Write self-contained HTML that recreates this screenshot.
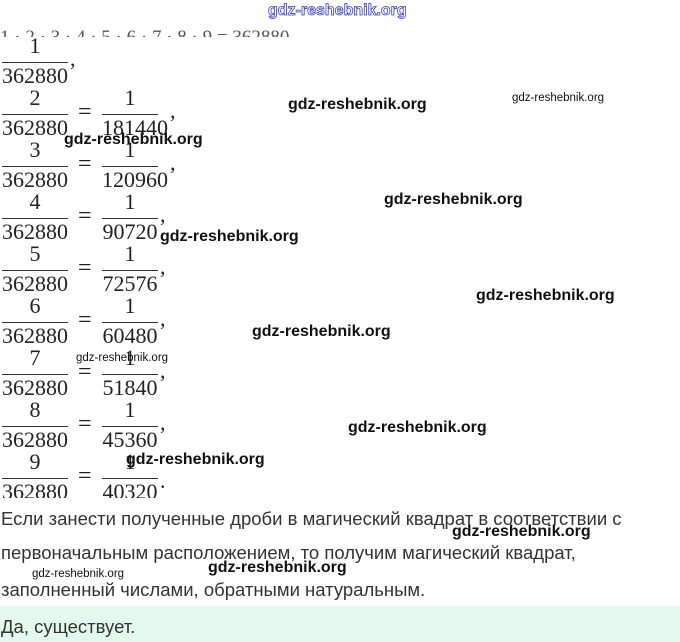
<!DOCTYPE html>
<html><head><meta charset="utf-8"><style>
body{margin:0;width:680px;height:642px;position:relative;background:#fff;overflow:hidden;font-family:"Liberation Serif",serif;color:#222}
.a{position:absolute}
.f{position:absolute;font-size:22px;line-height:22px;text-align:center}
.bar{position:absolute;height:1.3px;background:#333}
.eq{position:absolute;font-size:24px;line-height:24px}
.t{position:absolute;left:1px;font-family:"Liberation Sans",sans-serif;font-size:18.5px;color:#333;white-space:nowrap;line-height:20px}
.w{position:absolute;font-family:"Liberation Sans",sans-serif;font-weight:bold;font-size:16px;color:#111;white-space:nowrap;line-height:18px}
.ws{position:absolute;font-family:"Liberation Sans",sans-serif;font-size:11.5px;color:#111;white-space:nowrap;line-height:13px}
.c{position:absolute;font-size:22px;line-height:22px}
</style></head><body>
<div class="a" style="left:0;top:28px;height:9px;overflow:hidden;width:330px;font-size:19px;line-height:20px;white-space:nowrap;color:#555">1 · 2 · 3 · 4 · 5 · 6 · 7 · 8 · 9 = 362880</div>

<div class="f" style="left:2px;width:66px;top:35px">1</div><div class="bar" style="left:2px;width:66px;top:62px"></div><div class="f" style="left:2px;width:66px;top:65px">362880</div><div class="c" style="left:70px;top:48px">,</div>

<div class="f" style="left:2px;width:66px;top:87px">2</div><div class="bar" style="left:2px;width:66px;top:114px"></div><div class="f" style="left:2px;width:66px;top:117px">362880</div><div class="eq" style="left:78px;top:100px">=</div><div class="f" style="left:102px;width:56px;top:87px">1</div><div class="bar" style="left:102px;width:56px;top:114px"></div><div class="f" style="left:102px;width:56px;top:117px">181440</div><div class="c" style="left:170px;top:100px">,</div>

<div class="f" style="left:2px;width:66px;top:139px">3</div><div class="bar" style="left:2px;width:66px;top:166px"></div><div class="f" style="left:2px;width:66px;top:169px">362880</div><div class="eq" style="left:78px;top:152px">=</div><div class="f" style="left:102px;width:56px;top:139px">1</div><div class="bar" style="left:102px;width:56px;top:166px"></div><div class="f" style="left:102px;width:56px;top:169px">120960</div><div class="c" style="left:170px;top:152px">,</div>

<div class="f" style="left:2px;width:66px;top:191px">4</div><div class="bar" style="left:2px;width:66px;top:218px"></div><div class="f" style="left:2px;width:66px;top:221px">362880</div><div class="eq" style="left:78px;top:204px">=</div><div class="f" style="left:102px;width:56px;top:191px">1</div><div class="bar" style="left:102px;width:56px;top:218px"></div><div class="f" style="left:102px;width:56px;top:221px">90720</div><div class="c" style="left:160px;top:204px">,</div>

<div class="f" style="left:2px;width:66px;top:243px">5</div><div class="bar" style="left:2px;width:66px;top:270px"></div><div class="f" style="left:2px;width:66px;top:273px">362880</div><div class="eq" style="left:78px;top:256px">=</div><div class="f" style="left:102px;width:56px;top:243px">1</div><div class="bar" style="left:102px;width:56px;top:270px"></div><div class="f" style="left:102px;width:56px;top:273px">72576</div><div class="c" style="left:160px;top:256px">,</div>

<div class="f" style="left:2px;width:66px;top:295px">6</div><div class="bar" style="left:2px;width:66px;top:322px"></div><div class="f" style="left:2px;width:66px;top:325px">362880</div><div class="eq" style="left:78px;top:308px">=</div><div class="f" style="left:102px;width:56px;top:295px">1</div><div class="bar" style="left:102px;width:56px;top:322px"></div><div class="f" style="left:102px;width:56px;top:325px">60480</div><div class="c" style="left:160px;top:308px">,</div>

<div class="f" style="left:2px;width:66px;top:347px">7</div><div class="bar" style="left:2px;width:66px;top:374px"></div><div class="f" style="left:2px;width:66px;top:377px">362880</div><div class="eq" style="left:78px;top:360px">=</div><div class="f" style="left:102px;width:56px;top:347px">1</div><div class="bar" style="left:102px;width:56px;top:374px"></div><div class="f" style="left:102px;width:56px;top:377px">51840</div><div class="c" style="left:160px;top:360px">,</div>

<div class="f" style="left:2px;width:66px;top:399px">8</div><div class="bar" style="left:2px;width:66px;top:426px"></div><div class="f" style="left:2px;width:66px;top:429px">362880</div><div class="eq" style="left:78px;top:412px">=</div><div class="f" style="left:102px;width:56px;top:399px">1</div><div class="bar" style="left:102px;width:56px;top:426px"></div><div class="f" style="left:102px;width:56px;top:429px">45360</div><div class="c" style="left:160px;top:412px">,</div>

<div class="f" style="left:2px;width:66px;top:451px">9</div><div class="bar" style="left:2px;width:66px;top:478px"></div><div class="a" style="left:0;top:481px;width:170px;height:17px;overflow:hidden"><div class="f" style="left:2px;width:66px;top:0">362880</div><div class="f" style="left:102px;width:56px;top:0">40320</div></div><div class="eq" style="left:78px;top:464px">=</div><div class="f" style="left:102px;width:56px;top:451px">1</div><div class="bar" style="left:102px;width:56px;top:478px"></div><div class="c" style="left:160px;top:470px">.</div>

<div class="t" style="top:509px">Если занести полученные дроби в магический квадрат в соответствии с</div>
<div class="t" style="top:543px">первоначальным расположением, то получим магический квадрат,</div>
<div class="t" style="top:580px">заполненный числами, обратными натуральным.</div>
<div class="a" style="left:0;top:606px;width:680px;height:36px;background:#e4f9ed"></div>
<div class="t" style="top:617px">Да, существует.</div>

<div class="a" style="left:268px;top:2px;font-family:'Liberation Sans',sans-serif;font-weight:bold;font-size:16px;color:#fff;-webkit-text-stroke:0.8px #3a3acc;white-space:nowrap">gdz-reshebnik.org</div>
<div class="w" style="left:288px;top:96px">gdz-reshebnik.org</div>
<div class="ws" style="left:512px;top:92px">gdz-reshebnik.org</div>
<div class="w" style="left:64px;top:131px">gdz-reshebnik.org</div>
<div class="w" style="left:384px;top:191px">gdz-reshebnik.org</div>
<div class="w" style="left:160px;top:228px">gdz-reshebnik.org</div>
<div class="w" style="left:476px;top:287px">gdz-reshebnik.org</div>
<div class="w" style="left:252px;top:323px">gdz-reshebnik.org</div>
<div class="ws" style="left:76px;top:352px">gdz-reshebnik.org</div>
<div class="w" style="left:348px;top:419px">gdz-reshebnik.org</div>
<div class="w" style="left:126px;top:451px">gdz-reshebnik.org</div>
<div class="w" style="left:452px;top:523px">gdz-reshebnik.org</div>
<div class="w" style="left:208px;top:559px">gdz-reshebnik.org</div>
<div class="ws" style="left:32px;top:568px">gdz-reshebnik.org</div>
</body></html>
